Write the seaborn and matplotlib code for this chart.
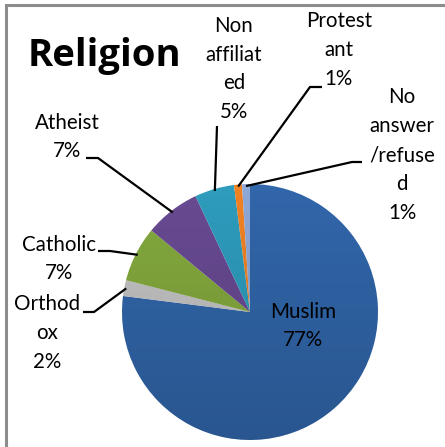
import numpy as np
import matplotlib
matplotlib.use("Agg")
import matplotlib.pyplot as plt
import seaborn as sns
from matplotlib.patches import Circle

sns.set_theme(style="white")
plt.rcParams["font.family"] = ["Lato", "DejaVu Sans"]

# Survey data, clockwise from 12 o'clock
categories = ["Muslim", "Orthodox", "Catholic", "Atheist", "Non affiliated", "Protestant", "No answer/refused"]
shares = [77, 2, 7, 7, 5, 1, 1]
# wrapped label text as displayed in the chart
label_text = ["Muslim", "Orthod\nox", "Catholic", "Atheist", "Non\naffiliat\ned", "Protest\nant", "No\nanswer\n/refuse\nd"]
colors = ["#3166AA", "#C4C4C4", "#84A93E", "#684A92", "#2E9CBD", "#F08224", "#8EA8D8"]

W, H = 445, 447
fig = plt.figure(figsize=(W / 100, H / 100), dpi=100)
ax = fig.add_axes([0, 0, 1, 1])

cx, cy, R = 250, H - 312, 128

wedges, _ = ax.pie(shares, colors=colors, startangle=90, counterclock=False,
                   center=(cx, cy), radius=R, frame=True,
                   wedgeprops=dict(linewidth=0))
ax.set_xlim(0, W)
ax.set_ylim(0, H)
ax.set_aspect("equal")
ax.axis("off")

# soft top-to-bottom shading over the pie
rgba = np.zeros((256, 1, 4))
rgba[:, 0, 3] = np.linspace(0.0, 0.16, 256)
img = ax.imshow(rgba, extent=(cx - R, cx + R, cy - R, cy + R), origin="upper",
                aspect="auto", zorder=3, interpolation="bilinear")
img.set_clip_path(Circle((cx, cy), R, transform=ax.transData))

# leader-line anchor on each wedge edge, from the data
cum = np.cumsum([0] + shares[:-1])
mid = (cum + np.array(shares) / 2) / sum(shares) * 360.0  # degrees clockwise from top

def edge_point(i, r=R):
    a = np.deg2rad(mid[i])
    return cx + r * np.sin(a), cy + r * np.cos(a)

fs = 14.8
ls = 1.55
# (text centre, elbow start, elbow end) in pixel coords from the top-left
layout = {
    1: ((47, 333), (83, 312), (94, 312)),
    2: ((59, 259), (98, 251), (110, 251)),
    3: ((67, 137), (86, 158), (98, 158)),
    4: ((234, 69), None, (217, 126)),
    5: ((339, 50), (322, 87), (310, 87)),
    6: ((402, 155), (362, 162), (352, 162)),
}
for i, (tc, p0, p1) in layout.items():
    ax.text(tc[0], H - tc[1], f"{label_text[i]}\n{shares[i]}%", ha="center", va="center",
            fontsize=fs, color="black", linespacing=ls, zorder=5)
    ex, ey = edge_point(i, R - 2)
    xs, ys = [], []
    if p0 is not None:
        xs.append(p0[0]); ys.append(H - p0[1])
    xs += [p1[0], ex]
    ys += [H - p1[1], ey]
    ax.plot(xs, ys, color="black", lw=1.6, solid_capstyle="butt", zorder=4)

# label inside the largest slice
ax.text(303, H - 326, f"{label_text[0]}\n{shares[0]}%", ha="center", va="center",
        fontsize=fs, color="black", linespacing=ls, zorder=5)

ax.text(28, H - 56, "Religion", ha="left", va="center", fontsize=27.5,
        fontweight="bold", color="black", family=["Open Sans", "DejaVu Sans"], zorder=5)

# chart frame
ax.plot([6, 6, W + 5], [-5, H - 5, H - 5], color="#8C8C8C", lw=2.2,
        solid_joinstyle="miter", zorder=6, clip_on=False)

fig.savefig("out.png", dpi=100, facecolor="white")
